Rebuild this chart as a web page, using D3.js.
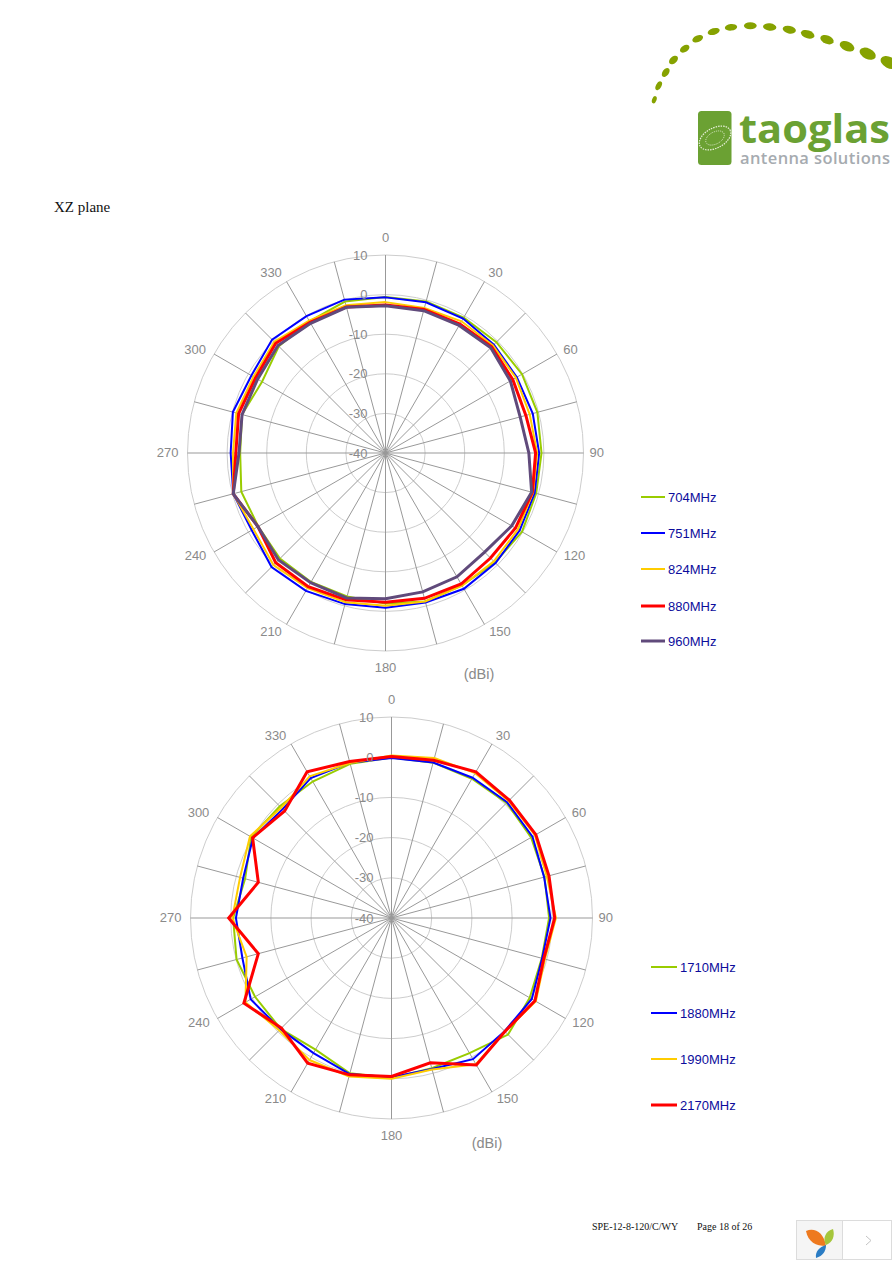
<!DOCTYPE html>
<html><head><meta charset="utf-8">
<script src="https://cdn.jsdelivr.net/npm/d3@7"></script>
<style>html,body{margin:0;padding:0;background:#fff}svg{display:block}</style>
</head><body>
<svg id="page" width="892" height="1262"></svg>
<script>
// angles 0..345 every 15 degrees
const angles = d3.range(0, 360, 15);
const ringTicks = [-40, -30, -20, -10, 0, 10];
const angleLabels = [0, 30, 60, 90, 120, 150, 180, 210, 240, 270, 300, 330];

const s704 = [-0.6,-0.4,-0.5,-0.4,-0.2,-0.3,-0.6,-0.6,-0.2,-0.9,-1.4,-1.2,-2.0,-2.5,-2.4,-2.3,-2.9,-2.3,-3.3,-2.5,-4.0,-1.9,-1.6,-0.4];
const s751 = [-0.7,-0.6,-0.8,-1.3,-1.7,-1.5,-1.2,-1.0,-0.9,-0.7,-0.4,-0.9,-0.9,-0.5,0.2,0.7,-1.0,-0.2,-0.9,-0.1,-0.9,0.5,-0.1,0.1];
const s824 = [-1.9,-2.1,-1.6,-1.6,-2.0,-2.3,-1.7,-1.4,-1.4,-1.3,-1.3,-1.2,-1.4,-1.0,-0.6,0.0,-1.5,-0.2,-1.5,-1.0,-1.5,-0.3,-1.4,-1.4];
const s880 = [-2.6,-2.5,-2.4,-2.1,-2.9,-3.3,-2.1,-1.6,-2.1,-2.5,-1.8,-2.0,-2.3,-1.6,-1.0,-0.8,-2.8,-0.2,-2.2,-1.6,-2.1,-0.8,-1.9,-1.8];
const s960 = [-2.8,-2.8,-2.8,-2.4,-3.6,-4.8,-3.8,-1.8,-3.2,-4.6,-3.9,-3.7,-3.2,-2.1,-2.2,-1.8,-2.8,-0.2,-3.0,-2.5,-2.7,-1.6,-2.2,-1.9];

const s1710 = [-0.1,0.0,0.0,0.5,0.1,-0.6,-0.8,-1.3,-0.3,1.0,-1.2,-1.3,-0.2,0.0,-2.2,-1.0,-0.8,-0.1,-0.6,-2.3,0.3,-0.7,-0.8,-0.3];
const s1880 = [-0.2,0.05,0.3,0.7,0.5,-0.7,-0.45,-1.2,0.3,-0.2,0.55,-1.1,-0.4,0.2,-1.2,-0.9,0.45,-1.6,-1.3,-1.8,-0.2,-1.7,0.2,0.0];
const s1990 = [0.4,1.2,1.6,1.2,1.2,0.0,0.9,-0.5,1.46,-0.1,2.0,-1.0,0.0,0.8,0.8,-0.5,1.96,-2.7,-0.4,-1.0,0.65,-1.2,0.7,-0.1];
const s2170 = [0.2,0.6,1.96,1.46,1.46,0.55,0.6,-0.8,1.2,-0.1,2.2,-2.7,-0.6,0.4,1.7,-1.3,2.4,-5.7,0.5,-5.7,-0.1,-2.4,2.0,0.3];

const names1 = ["704MHz", "751MHz", "824MHz", "880MHz", "960MHz"];
const names2 = ["1710MHz", "1880MHz", "1990MHz", "2170MHz"];
const seriesValues1 = [s704, s751, s824, s880, s960];
const seriesValues2 = [s1710, s1880, s1990, s2170];
const colors1 = ["#99cc00", "#0000ff", "#ffcc00", "#ff0000", "#604a7b"];
const widths1 = [2, 2, 2, 3, 3];
const colors2 = ["#99cc00", "#0000ff", "#ffcc00", "#ff0000"];
const widths2 = [2, 2, 2, 3];

// nudges of the angle labels, in label order
const labelNudgeX = [0, 4, 1.4, -0.7, 5.4, 8.5, 0, -8.5, -6.4, -5.8, -6.8, -8.5];
const labelNudgeY = [-3.5, 3.2, 2.2, -0.5, -3.2, -5.4, 2, -5.4, -3.2, -0.5, 2.2, 3.4];

const svg = d3.select("#page");
const sans = "'Liberation Sans', Arial, sans-serif";
const serif = "'Liberation Serif', 'Times New Roman', serif";

function polar(cfg) {
  const g = svg.append("g").attr("transform", `translate(${cfg.cx},${cfg.cy})`);
  const r = d3.scaleLinear().domain([-40, 10]).range([0, cfg.R]);
  const a = d3.scaleLinear().domain([0, 360]).range([0, 2 * Math.PI]);
  const xy = (deg, rad) => [rad * Math.sin(a(deg)), -rad * Math.cos(a(deg))];

  g.selectAll("circle.ring").data(ringTicks.slice(1)).join("circle")
    .attr("r", d => r(d)).attr("fill", "none").attr("stroke", "#cdcdcd").attr("stroke-width", 1);
  g.selectAll("line.spoke").data(angles).join("line")
    .attr("x1", 0).attr("y1", 0)
    .attr("x2", d => xy(d, cfg.R)[0]).attr("y2", d => xy(d, cfg.R)[1])
    .attr("stroke", "#999").attr("stroke-width", 1);

  const line = d3.lineRadial().angle(d => a(d.ang)).radius(d => r(d.v)).curve(d3.curveLinearClosed);
  cfg.series.forEach((vals, i) => {
    g.append("path").datum(vals.map((v, k) => ({ang: angles[k], v})))
      .attr("d", line).attr("fill", "none").attr("stroke", cfg.colors[i])
      .attr("stroke-width", cfg.widths[i]).attr("stroke-linejoin", "miter");
  });

  g.selectAll("text.rt").data(ringTicks).join("text")
    .attr("x", -18).attr("y", d => -r(d)).attr("dy", "0.35em").attr("text-anchor", "end")
    .attr("font-family", sans).attr("font-size", 13).attr("fill", "#8a8a8a").text(d => d);

  g.selectAll("text.at").data(angleLabels).join("text")
    .attr("x", (d, i) => xy(d, cfg.R + 14)[0] + labelNudgeX[i])
    .attr("y", (d, i) => xy(d, cfg.R + 14)[1] + labelNudgeY[i]).attr("dy", "0.35em").attr("text-anchor", "middle")
    .attr("font-family", sans).attr("font-size", 13).attr("fill", "#8a8a8a").text(d => d);

  svg.append("text").attr("x", cfg.dbiX).attr("y", cfg.dbiY).attr("text-anchor", "middle")
    .attr("font-family", sans).attr("font-size", 14.5).attr("fill", "#8a8a8a").text("(dBi)");

  const lg = svg.append("g");
  cfg.names.forEach((n, i) => {
    const y = cfg.legendY[i];
    lg.append("line").attr("x1", cfg.lx0).attr("x2", cfg.lx1).attr("y1", y).attr("y2", y)
      .attr("stroke", cfg.colors[i]).attr("stroke-width", cfg.widths[i]);
    lg.append("text").attr("x", cfg.lx1 + 3).attr("y", y).attr("dy", "0.36em")
      .attr("font-family", sans).attr("font-size", cfg.lfs).attr("fill", "#0c0c9c").text(n);
  });
}

polar({cx: 385.5, cy: 453, R: 198, series: seriesValues1, colors: colors1, widths: widths1, names: names1,
  legendY: [497, 533, 569, 606, 641], lx0: 641, lx1: 665, lfs: 13, dbiX: 479, dbiY: 679});
polar({cx: 391.5, cy: 918, R: 201, series: seriesValues2, colors: colors2, widths: widths2, names: names2,
  legendY: [967, 1013, 1059, 1105], lx0: 651, lx1: 677, lfs: 13, dbiX: 487, dbiY: 1148});

// page text
svg.append("text").attr("x", 54).attr("y", 212).attr("font-family", serif).attr("font-size", 15).attr("fill", "#111").text("XZ plane");
svg.append("text").attr("x", 592).attr("y", 1230).attr("font-family", serif).attr("font-size", 10).attr("fill", "#111").text("SPE-12-8-120/C/WY");
svg.append("text").attr("x", 697).attr("y", 1230).attr("font-family", serif).attr("font-size", 10).attr("fill", "#111").text("Page 18 of 26");

// logo
const logoDots = [[654.3,99.7,2.2,3.8,20],[658.7,85.7,2.7,4.8,28],[665.7,72.5,3.1,5,38],[673.5,60,3.4,5.2,48],[684.7,48.7,3.3,5.2,58],[697.7,38.7,3.3,5.7,66],[713.7,31.5,3.3,6.2,74],[731,27.3,3.3,6.2,84],[750.3,25.7,3.5,6.4,90],[769.7,27,3.7,6.7,96],[789.3,29.7,3.8,6.7,102],[807.7,34.3,4,7,108],[827,39.7,4.2,7,112],[847,46.3,4.7,7.7,114],[867.7,53.7,5.3,8.7,116],[889,62.5,5.7,9,118]];
svg.append("g").selectAll("ellipse").data(logoDots).join("ellipse")
  .attr("rx", d => d[2]).attr("ry", d => d[3])
  .attr("transform", d => `translate(${d[0]},${d[1]}) rotate(${d[4]})`).attr("fill", "#86a200");
svg.append("rect").attr("x", 698).attr("y", 111).attr("width", 33.5).attr("height", 54).attr("rx", 3.5).attr("fill", "#6ba133");
const emblem = svg.append("g").attr("transform", "translate(715,138) rotate(-28)").attr("fill", "none").attr("stroke", "#e6efd8");
emblem.append("ellipse").attr("rx", 17).attr("ry", 10).attr("stroke-width", 1.2).attr("stroke-dasharray", "1.5 1");
emblem.append("ellipse").attr("rx", 10).attr("ry", 6).attr("stroke-width", 0.8).attr("stroke-dasharray", "1 1");
svg.append("text").attr("x", 739).attr("y", 142.5).attr("font-family", "'Open Sans', sans-serif").attr("font-weight", 700).attr("font-size", 40).attr("fill", "#6ba133")
  .attr("textLength", 151).attr("lengthAdjust", "spacingAndGlyphs").text("taoglas");
svg.append("text").attr("x", 740).attr("y", 164).attr("font-family", "'Open Sans', sans-serif").attr("font-weight", 600).attr("font-size", 16.5).attr("fill", "#a6abb0").attr("textLength", 150).text("antenna solutions");

// footer widget
svg.append("rect").attr("x", 796.5).attr("y", 1220.5).attr("width", 46).attr("height", 39).attr("fill", "#f5f5f5").attr("stroke", "#dcdcdc");
svg.append("rect").attr("x", 842.5).attr("y", 1220.5).attr("width", 49).attr("height", 39).attr("fill", "#fff").attr("stroke", "#dcdcdc");
svg.append("path").attr("d", "M806,1231 C814,1227 824,1232 826,1246 C816,1246 808,1242 806,1231Z").attr("fill", "#ee7a1f");
svg.append("path").attr("d", "M826,1245 C822,1238 826,1231 833,1229 C835,1236 833,1242 826,1245Z").attr("fill", "#a5c63b");
svg.append("path").attr("d", "M816,1258 C815,1252 819,1247 826,1245 C826,1251 823,1256 816,1258Z").attr("fill", "#2a7cc4");
svg.append("path").attr("d", "M866,1236 L871,1240.5 L866,1245").attr("fill", "none").attr("stroke", "#c4c4c4");
</script>
</body></html>
